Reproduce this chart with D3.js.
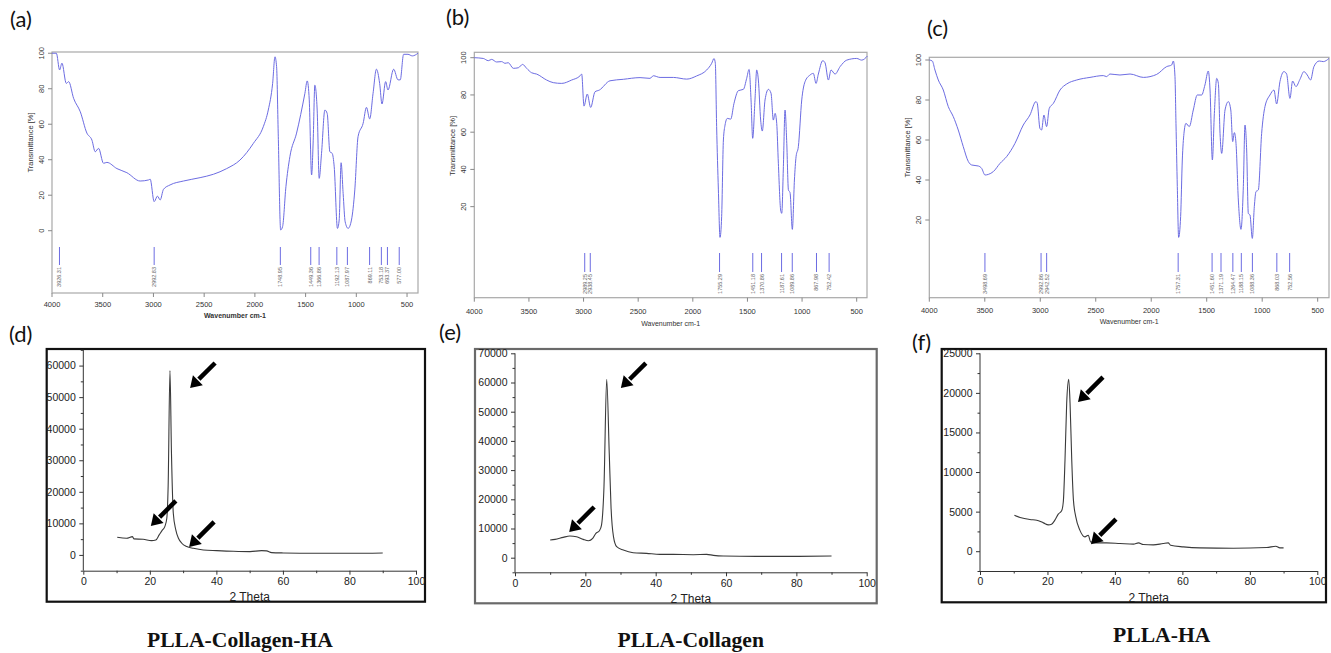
<!DOCTYPE html>
<html lang="en">
<head>
<meta charset="UTF-8">
<title>FTIR and XRD of PLLA scaffolds</title>
<script src="https://cdnjs.cloudflare.com/ajax/libs/d3/7.8.5/d3.min.js"></script>
<style>
  body { margin: 0; background: #fff; }
  svg { display: block; }
</style>
</head>
<body>
<svg id="fig" width="1331" height="653"></svg>
<script>
// ---------- FTIR data (wavenumber cm-1, transmittance %) ----------
const aWave = [4000,3957,3925,3902,3859,3836,3787,3721,3656,3606,3574,3541,3492,3459,3360,3262,3131,3049,3032,2993,2960,2934,2901,2836,2704,2540,2409,2278,2147,2015,1917,1868,1825,1802,1786,1770,1746,1727,1694,1655,1589,1507,1484,1464,1441,1425,1409,1386,1366,1343,1310,1287,1261,1238,1218,1186,1169,1150,1130,1110,1081,1048,1015,983,933,900,868,835,802,770,747,711,688,632,589,567,534,491,448,392];
const aTrans = [100,100,90.6,94.4,83,84,74.6,67,55,51,44.5,46.4,38,38.5,35,32.7,28,28.6,29,16.4,19.5,17.3,23.3,25.8,28,29.9,31.8,35,39.8,49.2,58.6,68,83,98,92.5,55,0.4,2.3,24.8,41.7,55,77.4,84.4,73.7,31.4,51,82,68,29.5,43.6,68,66,44.5,43.6,36,1.3,6,38.3,21,5,1.3,6,23,53,60.5,69.5,63,77.4,91,83,71.4,84,79.3,91,85,85,99.4,99.4,98.5,100];
const aPeaks = [3926.31, 2992.83, 1748.95, 1449.36, 1366.86, 1192.13, 1087.97, 869.11, 753.18, 693.37, 577.00];

const bWave = [4000,3918,3872,3841,3796,3750,3719,3689,3643,3597,3558,3521,3475,3429,3338,3277,3200,3109,3033,3017,2996,2966,2935,2895,2856,2758,2636,2483,2392,2361,2300,2178,2056,1965,1873,1827,1806,1794,1782,1766,1751,1736,1720,1705,1684,1653,1623,1583,1537,1507,1485,1467,1452,1431,1415,1400,1379,1364,1339,1308,1284,1263,1247,1232,1217,1196,1186,1171,1156,1140,1125,1110,1089,1070,1055,1034,1003,973,927,897,872,851,811,790,759,735,698,652,591,500,454,402];
const bTrans = [100,99.6,98.4,99.1,97.7,97.9,97,97.3,94.3,94.6,96.4,94.3,91.9,91.2,88,86.6,86.2,88,90.2,91.2,74,80.5,73.3,81.7,82.6,87.6,88.4,89.3,88.9,90.3,89.4,89.4,88.5,90.2,93.4,97,99.6,97,63,29,3.5,14.6,55.8,63.8,67.4,67,75.5,82.3,83,88.9,93.7,77.3,56.7,77.3,93.4,88,66.5,60.6,77.3,83,80.9,66.5,70.1,64.7,43.3,18.2,16.4,41.5,71.9,54,29,27.5,7.8,34.3,46.8,52.2,77.3,87.1,90.7,91.6,86.2,91.2,98.4,97.3,88,93.4,91.2,95.2,98.7,99.6,98.7,100.9];
const bPeaks = [2989.25, 2938.45, 1755.29, 1451.18, 1370.86, 1187.61, 1089.86, 867.98, 752.42];

const cWave = [4000,3973,3949,3919,3874,3829,3784,3739,3694,3648,3618,3558,3528,3498,3468,3423,3363,3303,3228,3153,3093,3039,3027,3003,2988,2967,2943,2919,2882,2822,2762,2672,2552,2432,2402,2372,2282,2191,2071,1951,1861,1816,1801,1786,1777,1765,1753,1735,1720,1705,1687,1657,1621,1585,1546,1516,1486,1470,1449,1431,1410,1395,1380,1365,1335,1305,1283,1266,1251,1236,1215,1191,1170,1155,1140,1125,1110,1089,1071,1056,1035,1005,975,930,894,870,840,804,780,750,726,696,660,624,594,564,534,486,449,398];
const cTrans = [100,99.5,95,90,85,76.7,71.7,65,56.7,49.2,47.5,47,45.8,42.5,42.8,44.2,48.3,51.7,58.3,67.5,72.5,79.2,78.3,65.8,65,72.5,66.7,75.8,78.3,85,88,90,91.3,92.2,91.7,93,92.5,93,91.3,92.8,96.7,97.5,99.5,91.7,68.3,36.7,11.3,21.7,50,63.3,68.3,66.7,75,82.5,82.5,87.5,94.5,85,50,73.3,90.8,88.3,63.3,53.3,75,79.2,75,59.2,63.7,58.3,30,15.3,36.7,67.5,55,23.3,22.5,10.8,26.7,34.2,35,63.3,76.7,82.5,85,78,89.2,94.2,93,80.8,89.5,86.7,90.3,94.2,92.5,90,96.7,99.5,99.2,100.8];
const cPeaks = [3498.69, 2992.86, 2942.52, 1757.31, 1451.60, 1371.19, 1264.47, 1188.15, 1088.36, 868.03, 752.56];

const wnTicks = [4000, 3500, 3000, 2500, 2000, 1500, 1000, 500];
const aTransTicks = [0, 20, 40, 60, 80, 100];
const bcTransTicks = [20, 40, 60, 80, 100];

// ---------- XRD data (2 theta, intensity) ----------
const dTheta = [10.2,13,14.8,15.2,18,20.5,21.8,22.8,23.8,24.5,25.1,25.5,26.05,26.5,27.05,27.8,28.6,29.6,31.1,33.1,36.1,40.1,45.1,50.1,53.6,55.1,56.6,60.1,70.1,80.2,90];
const dInt = [5600,5280,5810,5070,4960,4540,4750,6340,7920,8980,11620,21650,58400,32200,13200,7920,5280,3700,2640,2110,1580,1370,1160,1060,1370,1270,740,630,530,530,630];
const dArrowTheta = [32.1, 20.3, 31.8];
const dArrowInt = [52900, 9190, 2535];

const eTheta = [10,11.4,13.7,15.6,17.5,19.4,20.9,22.1,23,24,24.6,25.3,26.07,26.8,27.3,28,28.9,30.8,33.6,37.4,41.2,45,50.7,54.5,56.4,59.2,68.7,78.2,90];
const eInt = [6050,6280,6970,7420,7190,6280,5820,6620,8340,9250,11190,24320,61090,35740,17470,7190,3770,2630,1710,1480,1140,1140,1030,1140,800,570,460,460,570];
const eArrowTheta = [30.1, 15.4];
const eArrowInt = [58100, 8800];

const fTheta = [10.2,11.9,14.8,16.8,18.8,20.3,21.2,22.2,23.2,24.2,24.7,25.2,25.7,26.3,26.7,27.2,27.7,28.4,29.6,31.1,32.1,32.8,34.6,37.5,41.5,45.5,47,48.4,51.4,54.3,55.8,56.5,60.3,65.2,75.1,85,87.7,88.9,90];
const fInt = [4550,4260,4000,3920,3580,3330,3410,3920,4680,5100,6240,11510,18680,21710,18680,11510,6450,4340,2660,1810,2020,1180,1050,1050,970,890,1050,840,800,970,1050,760,550,420,380,460,630,420,420];
const fArrowTheta = [29.05, 32.9];
const fArrowInt = [18840, 885];

const thetaTicks = [0, 20, 40, 60, 80, 100];
const thetaMinor = [10, 30, 50, 70, 90];
const dIntTicks = [0, 10000, 20000, 30000, 40000, 50000, 60000];
const dIntMinor = [-5000, 5000, 15000, 25000, 35000, 45000, 55000, 65000];
const eIntTicks = [0, 10000, 20000, 30000, 40000, 50000, 60000, 70000];
const eIntMinor = [-5000, 5000, 15000, 25000, 35000, 45000, 55000, 65000];
const fIntTicks = [0, 5000, 10000, 15000, 20000, 25000];
const fIntMinor = [-2500, 2500, 7500, 12500, 17500, 22500];

const svg = d3.select('#fig');
const sans = "'Liberation Sans', Arial, sans-serif";
const tagFont = "Lato, 'Open Sans', sans-serif";
const ftirBlue = '#6c6ce2';

// ---------- FTIR panels ----------
const ftirPanels = [
  { tag: '(a)', tagX: 10, tagY: 27, wave: aWave, trans: aTrans, peaks: aPeaks, yTicks: aTransTicks,
    left: 52, right: 418, top: 52, bottom: 293, xEnd: 392, yMin: -35.1, yMax: 100.7,
    peakTop: 247, peakBot: 265, yTitleX: 33, yTitleY: 142.5, xLabelY: 307, xTitleY: 318, boldTitle: true },
  { tag: '(b)', tagX: 446, tagY: 25, wave: bWave, trans: bTrans, peaks: bPeaks, yTicks: bcTransTicks,
    left: 474.3, right: 867, top: 52.3, bottom: 297.7, xEnd: 405.7, yMin: -28.9, yMax: 102.9,
    peakTop: 253, peakBot: 272, yTitleX: 455, yTitleY: 146, xLabelY: 314, xTitleY: 326, boldTitle: false },
  { tag: '(c)', tagX: 927, tagY: 36, wave: cWave, trans: cTrans, peaks: cPeaks, yTicks: bcTransTicks,
    left: 929.3, right: 1329, top: 57.3, bottom: 297.7, xEnd: 398, yMin: -18.85, yMax: 101.35,
    peakTop: 253, peakBot: 272, yTitleX: 909.5, yTitleY: 147.5, xLabelY: 313, xTitleY: 324, boldTitle: false }
];

function drawFtir(p) {
  const x = d3.scaleLinear().domain([4000, p.xEnd]).range([p.left, p.right]);
  const y = d3.scaleLinear().domain([p.yMin, p.yMax]).range([p.bottom, p.top]);
  const g = svg.append('g');

  // frame
  g.append('rect')
    .attr('x', p.left).attr('y', p.top)
    .attr('width', p.right - p.left).attr('height', p.bottom - p.top)
    .attr('fill', 'none').attr('stroke', '#a8a8a8').attr('stroke-width', 1.2);

  // y ticks with rotated labels
  g.selectAll('.ytick').data(p.yTicks).join('line')
    .attr('x1', p.left - 4).attr('x2', p.left)
    .attr('y1', d => y(d)).attr('y2', d => y(d))
    .attr('stroke', '#888');
  g.selectAll('.ylab').data(p.yTicks).join('text')
    .attr('transform', d => `translate(${p.left - 8.5},${y(d)}) rotate(-90)`)
    .attr('text-anchor', 'middle')
    .attr('font-family', sans).attr('font-size', 7.5).attr('fill', '#333')
    .text(d => d);

  // x axis
  g.selectAll('.xtick').data(wnTicks).join('line')
    .attr('x1', d => x(d)).attr('x2', d => x(d))
    .attr('y1', p.bottom).attr('y2', p.bottom + 4)
    .attr('stroke', '#888');
  g.selectAll('.xlab').data(wnTicks).join('text')
    .attr('x', d => x(d)).attr('y', p.xLabelY)
    .attr('text-anchor', 'middle')
    .attr('font-family', sans).attr('font-size', 7.5).attr('fill', '#333')
    .text(d => d);

  // titles
  g.append('text')
    .attr('x', (p.left + p.right) / 2).attr('y', p.xTitleY)
    .attr('text-anchor', 'middle')
    .attr('font-family', sans).attr('font-size', 7)
    .attr('font-weight', p.boldTitle ? 'bold' : 'normal')
    .attr('fill', '#333')
    .text('Wavenumber cm-1');
  g.append('text')
    .attr('transform', `translate(${p.yTitleX},${p.yTitleY}) rotate(-90)`)
    .attr('text-anchor', 'middle')
    .attr('font-family', sans).attr('font-size', 7.5).attr('fill', '#333')
    .text('Transmittance [%]');

  // spectrum
  const pts = p.wave.map((w, i) => [w, p.trans[i]]);
  g.append('path')
    .datum(pts)
    .attr('fill', 'none')
    .attr('stroke', ftirBlue)
    .attr('stroke-width', 1)
    .attr('d', d3.line().x(d => x(d[0])).y(d => y(d[1])).curve(d3.curveMonotoneX));

  // peak markers
  g.selectAll('.pk').data(p.peaks).join('line')
    .attr('x1', d => x(d)).attr('x2', d => x(d))
    .attr('y1', p.peakTop).attr('y2', p.peakBot)
    .attr('stroke', ftirBlue).attr('stroke-width', 1);
  g.selectAll('.pklab').data(p.peaks).join('text')
    .attr('transform', d => `translate(${x(d) + 2},${p.peakBot + 2}) rotate(-90)`)
    .attr('text-anchor', 'end')
    .attr('font-family', sans).attr('font-size', 5.5).attr('fill', '#666')
    .text(d => d.toFixed(2));

  // panel tag
  svg.append('text')
    .attr('x', p.tagX).attr('y', p.tagY)
    .attr('font-family', tagFont).attr('font-size', 22).attr('fill', '#111')
    .text(p.tag);
}

ftirPanels.forEach(drawFtir);

// ---------- XRD panels ----------
const xrdPanels = [
  { tag: '(d)', tagX: 9, tagY: 342, theta: dTheta, inten: dInt,
    arrowTheta: dArrowTheta, arrowInt: dArrowInt,
    yTicks: dIntTicks, yMinor: dIntMinor, yMin: -5000, yMax: 65000,
    box: [46.7, 349, 425, 601.7], border: '#111',
    axisLeft: 83.3, axisRight: 416, axisBottom: 570.7, axisTop: 349.8,
    title: 'PLLA-Collagen-HA', titleX: 240, titleY: 646.7 },
  { tag: '(e)', tagX: 439, tagY: 340, theta: eTheta, inten: eInt,
    arrowTheta: eArrowTheta, arrowInt: eArrowInt,
    yTicks: eIntTicks, yMinor: eIntMinor, yMin: -5000, yMax: 70000,
    box: [475, 349, 876.7, 603.3], border: '#6a6a6a',
    axisLeft: 515, axisRight: 866.7, axisBottom: 572.3, axisTop: 353.3,
    title: 'PLLA-Collagen', titleX: 690.8, titleY: 646.5 },
  { tag: '(f)', tagX: 912, tagY: 349.5, theta: fTheta, inten: fInt,
    arrowTheta: fArrowTheta, arrowInt: fArrowInt,
    yTicks: fIntTicks, yMinor: fIntMinor, yMin: -2500, yMax: 25000,
    box: [941.7, 349, 1326, 602.3], border: '#111',
    axisLeft: 980, axisRight: 1317.3, axisBottom: 571, axisTop: 353.3,
    title: 'PLLA-HA', titleX: 1161.7, titleY: 641.7 }
];

function drawArrow(g, tx, ty) {
  // arrow pointing down-left, tip at (tx, ty)
  const s = Math.SQRT1_2;
  const tail = [tx + 25, ty - 25];
  const L = 11, w = 7;
  const base = [tx + L * s, ty - L * s];
  g.append('line')
    .attr('x1', tail[0]).attr('y1', tail[1])
    .attr('x2', base[0] + 1).attr('y2', base[1] - 1)
    .attr('stroke', '#000').attr('stroke-width', 4.5);
  g.append('path')
    .attr('d', `M${tx},${ty}L${base[0] + w * s},${base[1] + w * s}L${base[0] - w * s},${base[1] - w * s}Z`)
    .attr('fill', '#000');
}

function drawXrd(p) {
  const x = d3.scaleLinear().domain([0, 100]).range([p.axisLeft, p.axisRight]);
  const y = d3.scaleLinear().domain([p.yMin, p.yMax]).range([p.axisBottom, p.axisTop]);
  const g = svg.append('g');

  g.append('rect')
    .attr('x', p.box[0]).attr('y', p.box[1])
    .attr('width', p.box[2] - p.box[0]).attr('height', p.box[3] - p.box[1])
    .attr('fill', 'none').attr('stroke', p.border).attr('stroke-width', 2.2);

  // minor ticks
  g.append('g').attr('transform', `translate(${p.axisLeft},0)`)
    .call(d3.axisLeft(y).tickValues(p.yMinor).tickSize(2.5).tickSizeOuter(0).tickFormat(''))
    .call(a => a.select('.domain').remove());
  g.append('g').attr('transform', `translate(0,${p.axisBottom})`)
    .call(d3.axisBottom(x).tickValues(thetaMinor).tickSize(2.5).tickSizeOuter(0).tickFormat(''))
    .call(a => a.select('.domain').remove());

  // major axes
  const ya = g.append('g').attr('transform', `translate(${p.axisLeft},0)`)
    .call(d3.axisLeft(y).tickValues(p.yTicks).tickSize(4).tickSizeOuter(0).tickPadding(3.5).tickFormat(d3.format('d')));
  const xa = g.append('g').attr('transform', `translate(0,${p.axisBottom})`)
    .call(d3.axisBottom(x).tickValues(thetaTicks).tickSize(4).tickSizeOuter(0).tickPadding(3).tickFormat(d3.format('d')));
  [ya, xa].forEach(a => {
    a.attr('font-family', sans).attr('font-size', 10.5);
    a.selectAll('text').attr('fill', '#222');
  });
  g.selectAll('.tick line').attr('stroke', '#333');
  ya.select('.domain').attr('stroke', '#333').attr('d', `M0,${p.axisTop}V${p.axisBottom}`);
  xa.select('.domain').attr('stroke', '#333');

  g.append('text')
    .attr('x', (p.axisLeft + p.axisRight) / 2).attr('y', p.box[3] - 0.5)
    .attr('text-anchor', 'middle')
    .attr('font-family', sans).attr('font-size', 12).attr('fill', '#222')
    .text('2 Theta');

  // pattern
  const pts = p.theta.map((t, i) => [t, p.inten[i]]);
  g.append('path')
    .datum(pts)
    .attr('fill', 'none')
    .attr('stroke', '#3a3a3a')
    .attr('stroke-width', 1.1)
    .attr('d', d3.line().x(d => x(d[0])).y(d => y(d[1])).curve(d3.curveMonotoneX));

  // arrows
  p.arrowTheta.forEach((t, i) => drawArrow(g, x(t), y(p.arrowInt[i])));

  // sample name
  svg.append('text')
    .attr('x', p.titleX).attr('y', p.titleY)
    .attr('text-anchor', 'middle')
    .attr('font-family', "'Liberation Serif', 'Times New Roman', serif")
    .attr('font-weight', 'bold').attr('font-size', 21.6).attr('fill', '#111')
    .text(p.title);

  svg.append('text')
    .attr('x', p.tagX).attr('y', p.tagY)
    .attr('font-family', tagFont).attr('font-size', 22).attr('fill', '#111')
    .text(p.tag);
}

xrdPanels.forEach(drawXrd);
</script>
</body>
</html>
